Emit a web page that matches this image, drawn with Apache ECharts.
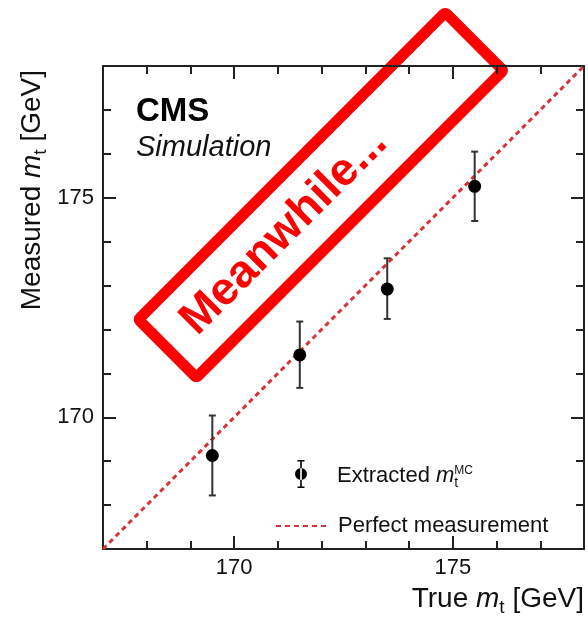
<!DOCTYPE html>
<html><head><meta charset="utf-8">
<script src="https://cdn.jsdelivr.net/npm/echarts@6/dist/echarts.min.js"></script>
<style>html,body{margin:0;padding:0;background:#fff}#c{width:588px;height:619px}</style>
</head><body><div id="c"></div>
<script>
// ---- data ----
const trueMass     = [169.5, 171.5, 173.5, 175.5];
const measuredMass = [169.13, 171.42, 172.92, 175.26];
const errLow       = [168.22, 170.67, 172.24, 174.47];
const errHigh      = [170.04, 172.18, 173.62, 176.05];
const perfectLine  = [167, 178];
const xTicks = [170, 175];
const yTicks = [170, 175];
const axisMin = 167, axisMax = 178;

const FONT = '"Liberation Sans", Arial, Helvetica, sans-serif';
const AX = '#222';
const TXT = '#111';
const RED_DASH = '#d6333b';

const nameRich = {
  n: { fontSize: 28, lineHeight: 35, fontFamily: FONT, color: TXT },
  i: { fontSize: 28, lineHeight: 35, fontFamily: FONT, fontStyle: 'italic', color: TXT },
  s: { fontSize: 19, lineHeight: 19, fontFamily: FONT, verticalAlign: 'bottom', color: TXT }
};

function majorAxis(position, ticks, withLabels, extra) {
  return Object.assign({
    type: 'value', position: position, min: axisMin, max: axisMax,
    axisLine: { show: true, onZero: false, lineStyle: { color: AX, width: 2 } },
    axisTick: { show: true, inside: true, length: 13, customValues: ticks, lineStyle: { color: AX, width: 2 } },
    axisLabel: { show: withLabels, customValues: ticks, fontSize: 22, color: TXT, fontFamily: FONT,
                 margin: (position === 'bottom' ? 8 : 9) },
    splitLine: { show: false }
  }, extra || {});
}
function minorAxis(position) {
  return {
    type: 'value', position: position, min: axisMin, max: axisMax, interval: 1,
    axisLine: { show: false, onZero: false },
    axisTick: { show: true, inside: true, length: 8, lineStyle: { color: AX, width: 2 } },
    axisLabel: { show: false },
    splitLine: { show: false }
  };
}

const ERR_ICON = 'path://M5.2,0H6.8V28H5.2Z M2.5,0H9.5V1.6H2.5Z M2.5,26.4H9.5V28H2.5Z M0,14A6,6 0 1,0 12,14A6,6 0 1,0 0,14Z';

const chart = echarts.init(document.getElementById('c'), null, { renderer: 'canvas' });
chart.setOption({
  animation: false,
  backgroundColor: '#fff',
  grid: { left: 103, right: 4, top: 66, bottom: 70, containLabel: false },
  xAxis: [
    majorAxis('bottom', xTicks, true, {
      name: '{n|True }{i|m}{s|t}{n| [GeV]}',
      nameLocation: 'end', nameGap: 0,
      nameTextStyle: { align: 'right', verticalAlign: 'top', padding: [33, 0, 0, 0], fontSize: 28, fontFamily: FONT, color: TXT, rich: nameRich }
    }),
    majorAxis('top', xTicks, false),
    minorAxis('bottom'),
    minorAxis('top')
  ],
  yAxis: [
    majorAxis('left', yTicks, true, {
      name: '{n|Measured }{i|m}{s|t}{n| [GeV]}',
      nameLocation: 'end', nameGap: -4, nameRotate: 90,
      nameTextStyle: { align: 'right', verticalAlign: 'bottom', padding: [0, 0, 53, 0], fontSize: 28, fontFamily: FONT, color: TXT, rich: nameRich }
    }),
    majorAxis('right', yTicks, false),
    minorAxis('left'),
    minorAxis('right')
  ],
  legend: [
    {
      data: [{ name: 'Extracted', icon: ERR_ICON }],
      left: 295, top: 460, padding: 0, itemWidth: 12, itemHeight: 28, selectedMode: false,
      formatter: function () { return '{n|Extracted }{i|m}{s|t}{p|MC}'; },
      textStyle: {
        fontSize: 22, color: TXT, fontFamily: FONT, padding: [4, 0, 0, 25],
        rich: {
          n: { fontSize: 22, lineHeight: 29, fontFamily: FONT, color: TXT },
          i: { fontSize: 22, lineHeight: 29, fontFamily: FONT, fontStyle: 'italic', color: TXT },
          s: { fontSize: 14, lineHeight: 14, fontFamily: FONT, verticalAlign: 'bottom', width: 0, color: TXT },
          p: { fontSize: 12, lineHeight: 12, fontFamily: FONT, verticalAlign: 'top', padding: [3, 0, 0, 0], color: TXT }
        }
      }
    },
    {
      data: ['Perfect measurement'],
      left: 275, top: 515, padding: 0, itemWidth: 50, itemHeight: 10, selectedMode: false,
      itemStyle: { opacity: 0, borderWidth: 0 },
      textStyle: { fontSize: 22, color: TXT, fontFamily: FONT, padding: [4, 0, 0, 7] }
    }
  ],
  series: [
    {
      name: 'Perfect measurement', type: 'line', xAxisIndex: 0, yAxisIndex: 0,
      data: perfectLine.map(v => [v, v]), symbol: 'none', silent: true, z: 2,
      lineStyle: { color: RED_DASH, width: 3, type: [5, 4] },
      itemStyle: { color: RED_DASH }
    },
    {
      name: 'errors', type: 'custom', xAxisIndex: 0, yAxisIndex: 0, z: 3, silent: true,
      data: trueMass.map((x, i) => [x, errLow[i], errHigh[i]]),
      encode: { x: 0, y: [1, 2] },
      renderItem: function (params, api) {
        const x = api.value(0);
        const lo = api.coord([x, api.value(1)]);
        const hi = api.coord([x, api.value(2)]);
        const cap = 3.5;
        const st = { stroke: '#333', lineWidth: 2 };
        return {
          type: 'group', children: [
            { type: 'line', shape: { x1: lo[0], y1: lo[1], x2: hi[0], y2: hi[1] }, style: st },
            { type: 'line', shape: { x1: lo[0] - cap, y1: lo[1], x2: lo[0] + cap, y2: lo[1] }, style: st },
            { type: 'line', shape: { x1: hi[0] - cap, y1: hi[1], x2: hi[0] + cap, y2: hi[1] }, style: st }
          ]
        };
      }
    },
    {
      name: 'Extracted', type: 'scatter', xAxisIndex: 0, yAxisIndex: 0, z: 4,
      data: trueMass.map((x, i) => [x, measuredMass[i]]),
      symbol: 'circle', symbolSize: 13, itemStyle: { color: '#000', opacity: 1 }
    }
  ],
  graphic: [
    { type: 'text', x: 136, y: 112, z: 50,
      style: { text: 'CMS', font: 'bold 33px ' + FONT, fill: '#000', align: 'left', verticalAlign: 'middle', textAlign: 'left', textVerticalAlign: 'middle' } },
    { type: 'text', x: 136, y: 148, z: 50,
      style: { text: 'Simulation', font: 'italic 29px ' + FONT, fill: '#111', align: 'left', verticalAlign: 'middle', textAlign: 'left', textVerticalAlign: 'middle' } },
    { type: 'group', x: 320.8, y: 195, rotation: Math.PI / 4, z: 100,
      children: [
        { type: 'rect', shape: { x: -217, y: -41, width: 434, height: 82, r: 2 },
          style: { fill: 'none', stroke: '#ff0000', lineWidth: 11, lineJoin: 'miter' } },
        { type: 'text', x: -52, y: 0,
          style: { text: 'Meanwhile...', font: 'bold 46px ' + FONT, fill: '#ff0000', align: 'center', verticalAlign: 'middle', textAlign: 'center', textVerticalAlign: 'middle' } }
      ] }
  ]
});
</script>
</body></html>
